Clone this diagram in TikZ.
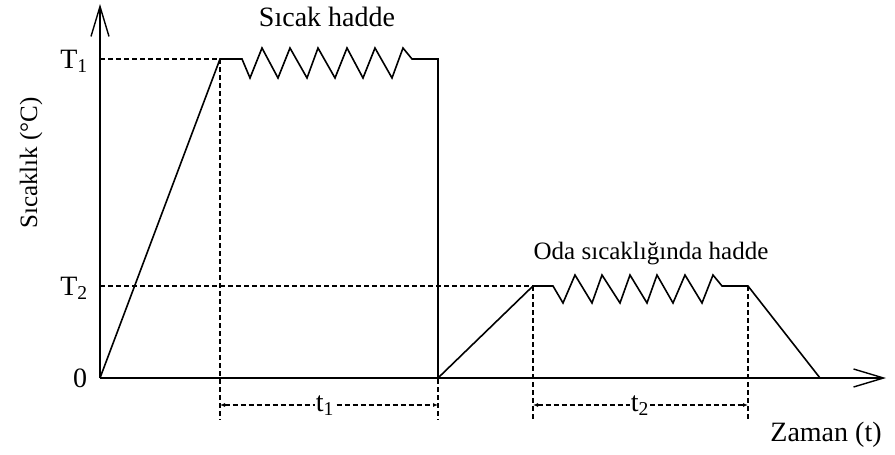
\documentclass[tikz,border=0pt]{standalone}
\usepackage{fontspec}
\setmainfont{Liberation Serif}
\usetikzlibrary{arrows.meta}
\begin{document}
\begin{tikzpicture}[x=1pt,y=-1pt,
  axis/.style={line width=1.8pt, -{Straight Barb[length=30pt,width=18pt,line width=1.4pt]}},
  curve/.style={line width=1.6pt, line join=miter},
  guide/.style={line width=1.2pt, dash pattern=on 5pt off 3pt},
  dimline/.style={line width=1.1pt, dash pattern=on 5pt off 3pt, {Latex[length=5pt,width=4pt]}-{Latex[length=5pt,width=4pt]}},
  lbl/.style={font=\fontsize{28}{32}\selectfont, inner sep=1pt},
  lblsm/.style={font=\fontsize{25}{30}\selectfont, inner sep=1pt}]
\useasboundingbox (0,0) rectangle (895,455);
% key points
\coordinate (O) at (100,378);
\coordinate (ytop) at (100,4);
\coordinate (xend) at (886,378);
\coordinate (yT1) at (100,59);
\coordinate (yT2) at (100,286);
\coordinate (A) at (220,59);
\coordinate (B) at (438,59);
\coordinate (Bd) at (438,378);
\coordinate (C) at (533,286);
\coordinate (D) at (748,286);
\coordinate (E) at (820,378);
\coordinate (Al) at (220,420);
\coordinate (Bl) at (438,420);
\coordinate (Cl) at (533,420);
\coordinate (Dl) at (748,420);
\coordinate (t1a) at (220,405);
\coordinate (t1b) at (438,405);
\coordinate (t2a) at (533,405);
\coordinate (t2b) at (748,405);
% guide lines
\draw[guide] (yT1) -- (A);
\draw[guide] (yT2) -- (C);
\draw[guide] (A) -- (Al);
\draw[guide] (B) -- (Bl);
\draw[guide] (C) -- (Cl);
\draw[guide] (D) -- (Dl);
% dimension lines
\draw[dimline] (t1a) -- (t1b);
\draw[dimline] (t2a) -- (t2b);
\node[lbl, fill=white, anchor=base] (t1) at (325,411) {t\textsubscript{1}};
\node[lbl, fill=white, anchor=base] (t2) at (640,411) {t\textsubscript{2}};
% axes
\draw[axis] (O) -- (ytop);
\draw[axis] (O) -- (xend);
% process curve
\draw[curve] (O) -- (A) -- (242,59) -- (250,78) -- (262,48) -- (278,78) -- (290,48)
  -- (307,78) -- (318,48) -- (335,78) -- (347,48) -- (363,78) -- (375,48)
  -- (392,78) -- (403,48) -- (412,59) -- (B) -- (Bd);
\draw[curve] (Bd) -- (C) -- (553,286) -- (563,303) -- (575,275) -- (592,303) -- (602,275)
  -- (620,303) -- (630,275) -- (647,303) -- (657,275) -- (673,303) -- (685,275)
  -- (702,303) -- (713,275) -- (722,286) -- (D) -- (E);
% labels
\node[lbl, anchor=base] (T1) at (74,68) {T\textsubscript{1}};
\node[lbl, anchor=base] (T2) at (74,295) {T\textsubscript{2}};
\node[lbl, anchor=base] (zero) at (80,387) {0};
\node[lbl, anchor=base] (hot) at (327,27) {Sıcak hadde};
\node[lblsm, anchor=base] (cold) at (651,259) {Oda sıcaklığında hadde};
\node[lbl, anchor=base] (xlab) at (826,441) {Zaman (t)};
\node[lblsm, anchor=base, rotate=90] (ylab) at (37,163) {Sıcaklık (°C)};
\end{tikzpicture}
\end{document}
